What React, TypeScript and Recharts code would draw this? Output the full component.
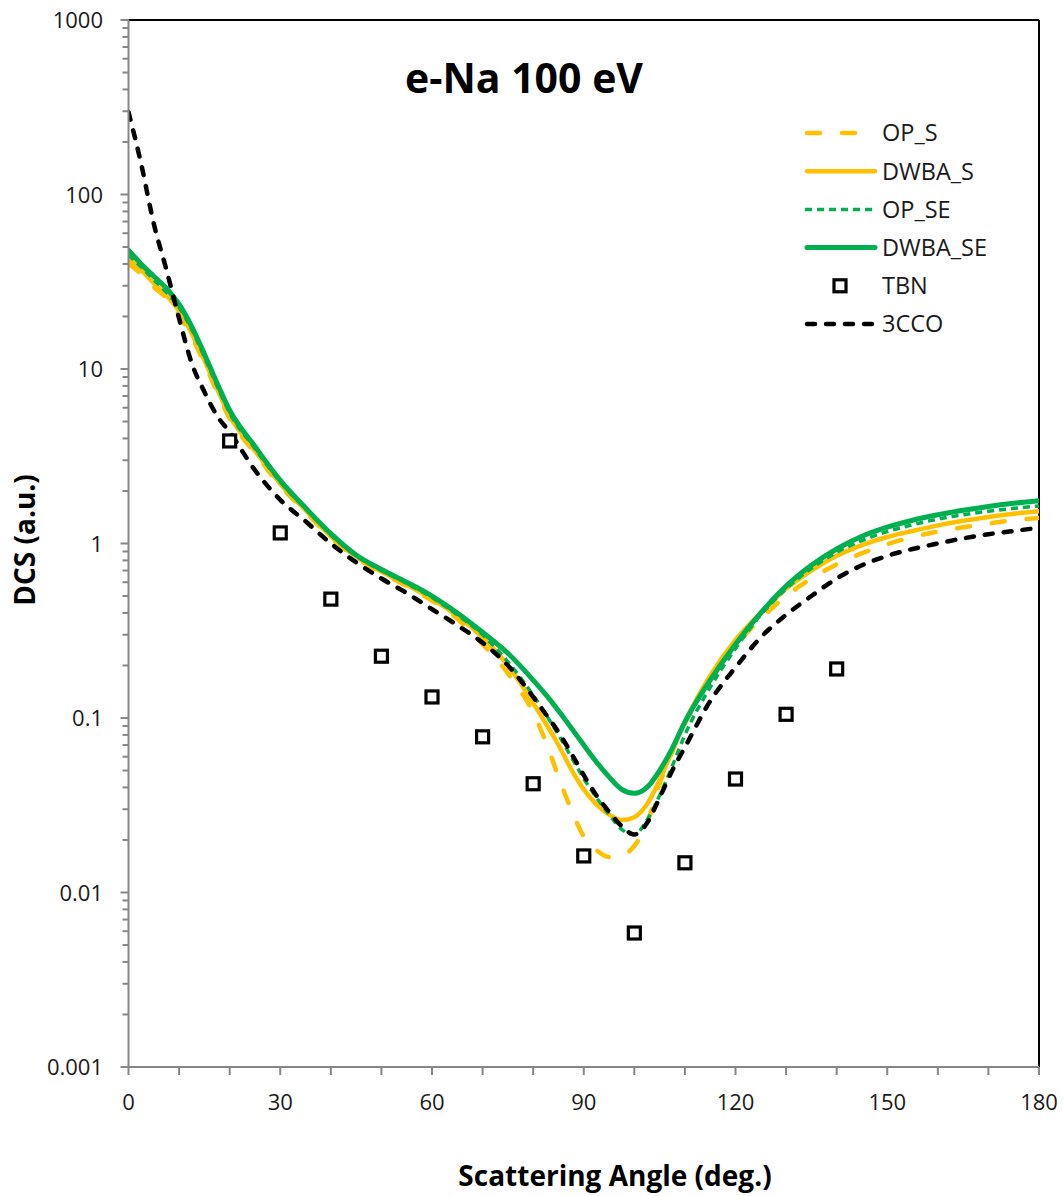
import React from 'react';
import { ComposedChart, Line, Scatter, XAxis, YAxis, ReferenceLine } from 'recharts';

const FONT = "'Open Sans', 'Liberation Sans', sans-serif";

// ---------- data ----------
const angles = [0, 2.5, 5, 7.5, 10, 12.5, 15, 17.5, 20, 25, 30, 35, 40, 45, 50, 55, 60, 65, 70, 75, 80, 82.5, 85, 87.5, 90, 92.5, 95, 97.5, 100, 102.5, 105, 107.5, 110, 115, 120, 125, 130, 135, 140, 145, 150, 155, 160, 165, 170, 175, 180];

const opS = [40, 35, 29.5, 25.5, 20.5, 15.3, 10.8, 7.4, 5.2, 3.3, 2.15, 1.52, 1.08, 0.83, 0.68, 0.57, 0.47, 0.37, 0.265, 0.18, 0.107, 0.073, 0.046, 0.03, 0.021, 0.0175, 0.016, 0.0163, 0.0185, 0.025, 0.042, 0.064, 0.093, 0.165, 0.26, 0.37, 0.5, 0.63, 0.76, 0.88, 0.99, 1.09, 1.17, 1.24, 1.3, 1.36, 1.4];

const dwbaS = [43, 37, 31, 26.5, 21.5, 16, 11.2, 7.7, 5.4, 3.4, 2.2, 1.55, 1.1, 0.84, 0.69, 0.58, 0.48, 0.385, 0.29, 0.2, 0.122, 0.093, 0.07, 0.051, 0.039, 0.032, 0.028, 0.026, 0.027, 0.032, 0.044, 0.065, 0.095, 0.175, 0.28, 0.4, 0.55, 0.7, 0.85, 0.98, 1.09, 1.18, 1.27, 1.35, 1.42, 1.48, 1.53];

const opSE = [45, 38.5, 32.5, 27.5, 22.5, 16.8, 11.7, 8.0, 5.6, 3.5, 2.25, 1.58, 1.12, 0.85, 0.7, 0.59, 0.49, 0.39, 0.3, 0.21, 0.135, 0.105, 0.08, 0.06, 0.045, 0.035, 0.028, 0.023, 0.0215, 0.026, 0.036, 0.053, 0.08, 0.15, 0.25, 0.39, 0.55, 0.72, 0.89, 1.04, 1.17, 1.28, 1.38, 1.46, 1.53, 1.59, 1.64];

const dwbaSE = [48, 40, 34, 29, 23.5, 17.5, 12.2, 8.3, 5.8, 3.6, 2.3, 1.6, 1.14, 0.86, 0.71, 0.6, 0.5, 0.4, 0.31, 0.235, 0.165, 0.136, 0.11, 0.088, 0.07, 0.056, 0.046, 0.039, 0.037, 0.04, 0.05, 0.067, 0.095, 0.165, 0.265, 0.4, 0.57, 0.75, 0.93, 1.1, 1.24, 1.36, 1.46, 1.55, 1.63, 1.7, 1.76];

const cco3 = [297, 150, 68, 37, 19.5, 10.8, 7.4, 5.4, 4.35, 2.63, 1.78, 1.34, 1.0, 0.78, 0.63, 0.52, 0.42, 0.34, 0.27, 0.2, 0.132, 0.105, 0.083, 0.063, 0.047, 0.036, 0.029, 0.024, 0.0215, 0.025, 0.035, 0.05, 0.068, 0.125, 0.195, 0.29, 0.39, 0.5, 0.63, 0.75, 0.85, 0.93, 1.0, 1.07, 1.13, 1.18, 1.23];

const tbnAngles = [20, 30, 40, 50, 60, 70, 80, 90, 100, 110, 120, 130, 140];
const tbnValues = [3.87, 1.15, 0.48, 0.226, 0.132, 0.078, 0.042, 0.0162, 0.00586, 0.0148, 0.0447, 0.105, 0.191];

const xTicks = [0, 10, 20, 30, 40, 50, 60, 70, 80, 90, 100, 110, 120, 130, 140, 150, 160, 170, 180];
const xLabelTicks = [0, 30, 60, 90, 120, 150, 180];
const yDecades = [0.001, 0.01, 0.1, 1, 10, 100, 1000];
const yDecadeLabels = ['0.001', '0.01', '0.1', '1', '10', '100', '1000'];

const title = 'e-Na 100 eV';
const xTitle = 'Scattering Angle (deg.)';
const yTitle = 'DCS (a.u.)';

// ---------- styles ----------
const series = [
  { key: 'opS', name: 'OP_S', values: opS, color: '#FFC000', width: 4.5, dash: '13 22', cap: 'round' },
  { key: 'dwbaS', name: 'DWBA_S', values: dwbaS, color: '#FFC000', width: 4.5, dash: undefined, cap: 'round' },
  { key: 'opSE', name: 'OP_SE', values: opSE, color: '#00B050', width: 3.5, dash: '7 5', cap: 'butt' },
  { key: 'dwbaSE', name: 'DWBA_SE', values: dwbaSE, color: '#00B050', width: 5, dash: undefined, cap: 'round' },
  { key: 'cco3', name: '3CCO', values: cco3, color: '#000000', width: 4.5, dash: '8 11', cap: 'round' },
];

const data = angles.map((a, i) => {
  const row: Record<string, number> = { angle: a };
  series.forEach((s) => {
    row[s.key] = s.values[i];
  });
  return row;
});

const tbnData = tbnAngles.map((a, i) => ({ angle: a, tbn: tbnValues[i] }));

const yTicks: number[] = [];
yDecades.forEach((d, i) => {
  if (i < yDecades.length - 1) {
    for (let m = 1; m < 10; m++) yTicks.push(Number((d * m).toPrecision(6)));
  } else {
    yTicks.push(d);
  }
});

const AXIS = '#868686';
const TEXT = '#1a1a1a';

const YTick = (props: any) => {
  const { x, y, payload } = props;
  const v = payload.value;
  const idx = yDecades.findIndex((m) => Math.abs(Math.log10(m) - Math.log10(v)) < 1e-6);
  const major = idx >= 0;
  return (
    <g>
      <line x1={x - (major ? 8 : 6)} x2={x} y1={y} y2={y} stroke={AXIS} strokeWidth={2} />
      {major && (
        <text x={x - 25.5} y={y + 8} textAnchor="end" fontSize={22} fontFamily={FONT} fill={TEXT}>
          {yDecadeLabels[idx]}
        </text>
      )}
    </g>
  );
};

const XTick = (props: any) => {
  const { x, y, payload } = props;
  const v = payload.value;
  const labeled = xLabelTicks.includes(v);
  return (
    <g>
      <line x1={x} x2={x} y1={y} y2={y + 8} stroke={AXIS} strokeWidth={2} />
      {labeled && (
        <text x={x} y={y + 43} textAnchor="middle" fontSize={22} fontFamily={FONT} fill={TEXT}>
          {String(v)}
        </text>
      )}
    </g>
  );
};

const SquareShape = (props: any) => {
  const { cx, cy } = props;
  if (cx == null || cy == null) return <g />;
  return <rect x={cx - 6} y={cy - 6} width={12} height={12} fill="#ffffff" stroke="#000000" strokeWidth={3.2} />;
};

const legendRows = ['OP_S', 'DWBA_S', 'OP_SE', 'DWBA_SE', 'TBN', '3CCO'];

export default function App() {
  const W = 1063;
  const H = 1196;
  const legendX0 = 805;
  const legendX1 = 875;
  const legendTextX = 882;
  const legendY0 = 133;
  const legendStep = 38.2;
  return (
    <div style={{ position: 'relative', width: W, height: H }}>
      <style>{`html{overflow:hidden} body{margin:0}`}</style>
      <ComposedChart width={W} height={H} data={data} margin={{ top: 20, right: 24, bottom: 0, left: 0 }}>
        <XAxis
          dataKey="angle"
          type="number"
          domain={[0, 180]}
          ticks={xTicks}
          interval={0}
          tickSize={0}
          tickMargin={0}
          tickLine={false}
          tick={<XTick />}
          axisLine={{ stroke: AXIS, strokeWidth: 2 }}
          height={129}
          allowDataOverflow
        />
        <YAxis
          type="number"
          scale="log"
          domain={[0.001, 1000]}
          ticks={yTicks}
          interval={0}
          tickSize={0}
          tickMargin={0}
          tickLine={false}
          tick={<YTick />}
          axisLine={{ stroke: AXIS, strokeWidth: 2 }}
          width={128.5}
          allowDataOverflow
        />
        <ReferenceLine y={1000} stroke="#000" strokeWidth={2} />
        <ReferenceLine x={180} stroke="#000" strokeWidth={2} />
        {series.slice(0, 4).map((s) => (
          <Line
            key={s.key}
            dataKey={s.key}
            name={s.name}
            type="monotone"
            stroke={s.color}
            strokeWidth={s.width}
            strokeDasharray={s.dash}
            strokeLinecap={s.cap as any}
            dot={false}
            activeDot={false}
            isAnimationActive={false}
          />
        ))}
        <Scatter data={tbnData} dataKey="tbn" name="TBN" shape={<SquareShape />} isAnimationActive={false} />
        {series.slice(4).map((s) => (
          <Line
            key={s.key}
            dataKey={s.key}
            name={s.name}
            type="monotone"
            stroke={s.color}
            strokeWidth={s.width}
            strokeDasharray={s.dash}
            strokeLinecap={s.cap as any}
            dot={false}
            activeDot={false}
            isAnimationActive={false}
          />
        ))}
      </ComposedChart>
      <svg
        width={W}
        height={H}
        style={{ position: 'absolute', left: 0, top: 0, pointerEvents: 'none' }}
      >
        <text x={524} y={93} textAnchor="middle" fontSize={41} fontWeight={700} fontFamily={FONT} fill="#000">
          {title}
        </text>
        <text x={615} y={1186} textAnchor="middle" fontSize={28} fontWeight={700} fontFamily={FONT} fill="#000">
          {xTitle}
        </text>
        <text
          transform="translate(35,540) rotate(-90)"
          textAnchor="middle"
          fontSize={28}
          fontWeight={700}
          fontFamily={FONT}
          fill="#000"
        >
          {yTitle}
        </text>
        {legendRows.map((name, i) => {
          const cy = legendY0 + i * legendStep;
          const s = series.find((q) => q.name === name);
          return (
            <g key={name}>
              {s ? (
                <line
                  x1={legendX0 + (s.cap === 'round' ? 2 : 0)}
                  x2={legendX1}
                  y1={cy}
                  y2={cy}
                  stroke={s.color}
                  strokeWidth={s.width}
                  strokeDasharray={s.dash}
                  strokeLinecap={s.cap as any}
                />
              ) : (
                <rect x={(legendX0 + legendX1) / 2 - 6} y={cy - 6} width={12} height={12} fill="#fff" stroke="#000" strokeWidth={3.2} />
              )}
              <text x={legendTextX} y={cy + 8.4} fontSize={23.5} fontFamily={FONT} fill={TEXT}>
                {name}
              </text>
            </g>
          );
        })}
      </svg>
    </div>
  );
}
